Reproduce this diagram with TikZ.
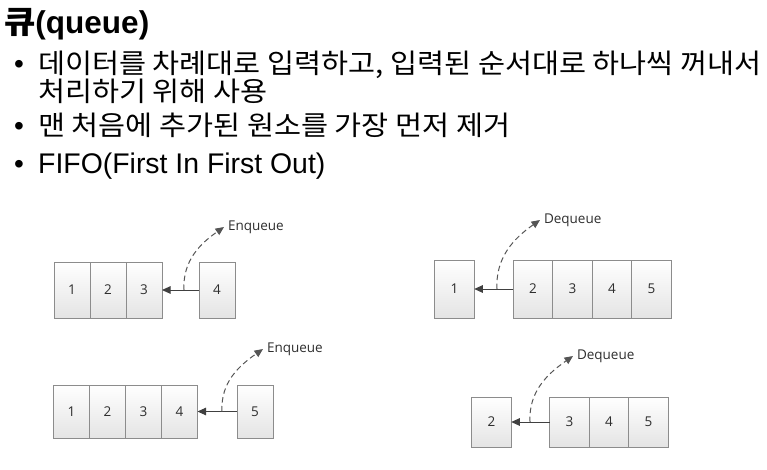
\documentclass[tikz,border=0pt]{standalone}
\usepackage{fontspec}
\setmainfont{Liberation Sans}
\newfontfamily\krfont[FakeStretch=1.08]{Noto Sans CJK KR}
\newfontfamily\diagfont{Open Sans}
\usetikzlibrary{positioning,arrows.meta}

\definecolor{boxline}{HTML}{8C8C8C}
\definecolor{boxfill}{HTML}{E4E4E4}
\definecolor{digit}{HTML}{2E2E2E}
\definecolor{arrowgray}{HTML}{404040}
\definecolor{dashgray}{HTML}{555555}

\tikzset{
  qbox/.style={draw=boxline, line width=0.7pt, top color=white, bottom color=boxfill,
    minimum width=36pt, minimum height=56pt, inner sep=0pt, outer sep=0pt,
    text height=9.5pt, text depth=0pt,
    text=digit, font=\diagfont\fontsize{13.5}{15}\selectfont},
  push/.style={draw=arrowgray, line width=1pt, -{Triangle[length=8.5pt,width=7.5pt]}},
  hop/.style={draw=dashgray, line width=1pt, dash pattern=on 5.5pt off 3.5pt,
    -{Triangle[length=8.5pt,width=7.5pt]}},
  oplabel/.style={anchor=west, inner sep=0pt, outer sep=4pt, text=digit,
    font=\diagfont\fontsize{13.5}{15}\selectfont},
  line/.style={anchor=base west, inner sep=0pt, font=\fontsize{28.4}{30}\selectfont},
  krline/.style={anchor=base west, inner sep=0pt, font=\krfont\fontsize{27.2}{30}\selectfont},
  dot/.style={anchor=base, inner sep=0pt, font=\fontsize{28}{30}\selectfont}
}

\begin{document}
\begin{tikzpicture}[x=1pt,y=-1pt]
\useasboundingbox (0,0) rectangle (767,469);

% heading and bullets
\node[anchor=base west, inner sep=0pt, font=\bfseries\fontsize{31.5}{34}\selectfont]
  (title) at (4,33) {{\krfont\bfseries 큐}(queue)};
\node[dot] (b1) at (19,73) {•};
\node[krline] (t1) at (38,73) {데이터를 차례대로 입력하고, 입력된 순서대로 하나씩 꺼내서};
\node[krline] (t2) at (38,101) {처리하기 위해 사용};
\node[dot] (b3) at (19,135) {•};
\node[krline] (t3) at (38,135) {맨 처음에 추가된 원소를 가장 먼저 제거};
\node[dot] (b4) at (19,173) {•};
\node[line] (t4) at (38,173) {FIFO(First In First Out)};

% enqueue 4
\node[qbox] (a1) at (72,290) {1};
\node[qbox, right=0pt of a1] (a2) {2};
\node[qbox, right=0pt of a2] (a3) {3};
\node[qbox] (a4) at (217,290) {4};
\draw[push] (a4) -- (a3);
\coordinate (as) at (184,290);
\node[oplabel] (ea) at (224,227) {Enqueue};
\draw[hop] (as) to[out=93,in=215] (ea.west);

% dequeue 1
\begin{scope}[qbox/.append style={minimum width=39.5pt, minimum height=58pt}]
\node[qbox] (d1) at (454.5,289) {1};
\node[qbox] (d2) at (533,289) {2};
\node[qbox, right=0pt of d2] (d3) {3};
\node[qbox, right=0pt of d3] (d4) {4};
\node[qbox, right=0pt of d4] (d5) {5};
\draw[push] (d2) -- (d1);
\coordinate (ds) at (497,289);
\node[oplabel] (da) at (540,220) {Dequeue};
\draw[hop] (ds) to[out=93,in=215] (da.west);
\end{scope}

% enqueue 5
\begin{scope}[qbox/.append style={minimum height=53pt}]
\node[qbox] (e1) at (71.5,411.5) {1};
\node[qbox, right=0pt of e1] (e2) {2};
\node[qbox, right=0pt of e2] (e3) {3};
\node[qbox, right=0pt of e3] (e4) {4};
\node[qbox] (e5) at (255,411.5) {5};
\draw[push] (e5) -- (e4);
\coordinate (es) at (222,411.5);
\node[oplabel] (eb) at (263,349) {Enqueue};
\draw[hop] (es) to[out=93,in=215] (eb.west);
\end{scope}

% dequeue 2
\begin{scope}[qbox/.append style={minimum width=39.5pt, minimum height=50pt}]
\node[qbox] (f2) at (491.5,422) {2};
\node[qbox] (f3) at (569.5,422) {3};
\node[qbox, right=0pt of f3] (f4) {4};
\node[qbox, right=0pt of f4] (f5) {5};
\draw[push] (f3) -- (f2);
\coordinate (fs) at (530,422);
\node[oplabel] (db) at (573,356) {Dequeue};
\draw[hop] (fs) to[out=93,in=215] (db.west);
\end{scope}
\end{tikzpicture}
\end{document}
